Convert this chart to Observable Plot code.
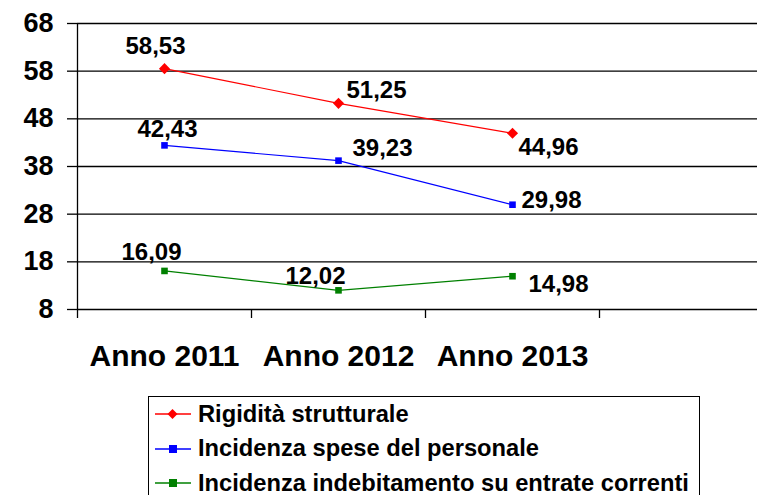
<!DOCTYPE html>
<html>
<head>
<meta charset="utf-8">
<script src="https://cdn.jsdelivr.net/npm/d3@7"></script>
<script src="https://cdn.jsdelivr.net/npm/@observablehq/plot@0.6"></script>
<style>
  html, body { margin: 0; padding: 0; background: #fff; overflow: hidden; }
  #wrap { position: relative; width: 757px; height: 495px; font-family: "Liberation Sans", Arial, sans-serif; }
  #legend { position: absolute; left: 148px; top: 396px; width: 552px; height: 110px; border: 1px solid #000; box-sizing: border-box; background: #fff; }
  .row { position: absolute; left: 6px; height: 30px; display: flex; align-items: center; font-weight: bold; font-size: 23.7px; color: #000; white-space: nowrap; }
  .row svg { margin-right: 7px; }
</style>
</head>
<body>
<div id="wrap"><div id="chart"></div><div id="legend"></div></div>
<script>
const years = ["Anno 2011", "Anno 2012", "Anno 2013"];
const seriesNames = ["Rigidità strutturale", "Incidenza spese del personale", "Incidenza indebitamento su entrate correnti"];
const rigidita = [58.53, 51.25, 44.96];
const spesePersonale = [42.43, 39.23, 29.98];
const indebitamento = [16.09, 12.02, 14.98];
const yTicks = [8, 18, 28, 38, 48, 58, 68];

const seriesValues = [rigidita, spesePersonale, indebitamento];
const colors = ["#ff0000", "#0000ff", "#008000"];
const symbols = ["diamond2", "square2", "square2"];

const rows = [];
seriesValues.forEach((vals, s) => vals.forEach((v, i) => rows.push({s, series: seriesNames[s], year: years[i], pos: i + 0.5, value: v})));

// label placement per [series][year]
const place = [
  [{a: "middle", dx: -9, dy: -22}, {a: "start", dx: 8, dy: -13}, {a: "start", dx: 6, dy: 14}],
  [{a: "middle", dx: 3, dy: -16}, {a: "start", dx: 14, dy: -12}, {a: "start", dx: 9, dy: -4}],
  [{a: "middle", dx: -13, dy: -19}, {a: "end", dx: 7, dy: -14}, {a: "start", dx: 16, dy: 8}]
];
const fmt = v => v.toFixed(2).replace(".", ",");

const marks = [
  Plot.gridY(yTicks, {stroke: "#000", strokeOpacity: 1, strokeWidth: 1.3}),
  Plot.ruleX([0], {stroke: "#000", strokeWidth: 1.3}),
  Plot.axisY(yTicks, {tickSize: 10, tickPadding: 14, fontSize: 27, fontWeight: "bold", label: null, stroke: "#000", strokeWidth: 1.3}),
  Plot.axisX([0, 1, 2, 3], {tickSize: 9, tickFormat: () => "", label: null, strokeWidth: 1.3}),
  Plot.axisX([0.5, 1.5, 2.5], {tickSize: 0, tickPadding: 35, tickFormat: d => years[Math.floor(d)], fontSize: 30, fontWeight: "bold", label: null})
];
seriesValues.forEach((vals, s) => {
  const data = rows.filter(r => r.s === s);
  marks.push(Plot.line(data, {x: "pos", y: "value", stroke: colors[s], strokeWidth: 1.2}));
  marks.push(Plot.dot(data, {x: "pos", y: "value", symbol: symbols[s], fill: colors[s], stroke: "none", r: s === 0 ? 5 : 4.2}));
  data.forEach((d, i) => {
    const p = place[s][i];
    marks.push(Plot.text([d], {x: "pos", y: "value", text: r => fmt(r.value), textAnchor: p.a, dx: p.dx, dy: p.dy, fontSize: 24, fontWeight: "bold", fill: "#000"}));
  });
});

const chart = Plot.plot({
  width: 757,
  height: 390,
  marginLeft: 77,
  marginRight: 0,
  marginTop: 23,
  marginBottom: 81,
  style: {fontFamily: '"Liberation Sans", Arial, sans-serif', color: "#000", background: "#fff"},
  x: {domain: [0, 4], range: [77, 773]},
  y: {domain: [8, 68]},
  marks
});
document.getElementById("chart").appendChild(chart);

const legend = document.getElementById("legend");
seriesNames.forEach((name, s) => {
  const row = document.createElement("div");
  row.className = "row";
  row.style.top = (2 + s * 34.5) + "px";
  const sym = s === 0
    ? `<path d="M17.5 -5 L22.5 0 L17.5 5 L12.5 0 Z" fill="${colors[s]}"/>`
    : `<rect x="14" y="-4" width="8" height="8" fill="${colors[s]}"/>`;
  row.innerHTML = `<svg width="36" height="14" viewBox="0 -7 36 14"><line x1="0" x2="36" y1="0" y2="0" stroke="${colors[s]}" stroke-width="1.3"/>${sym}</svg><span>${name}</span>`;
  legend.appendChild(row);
});
</script>
</body>
</html>
